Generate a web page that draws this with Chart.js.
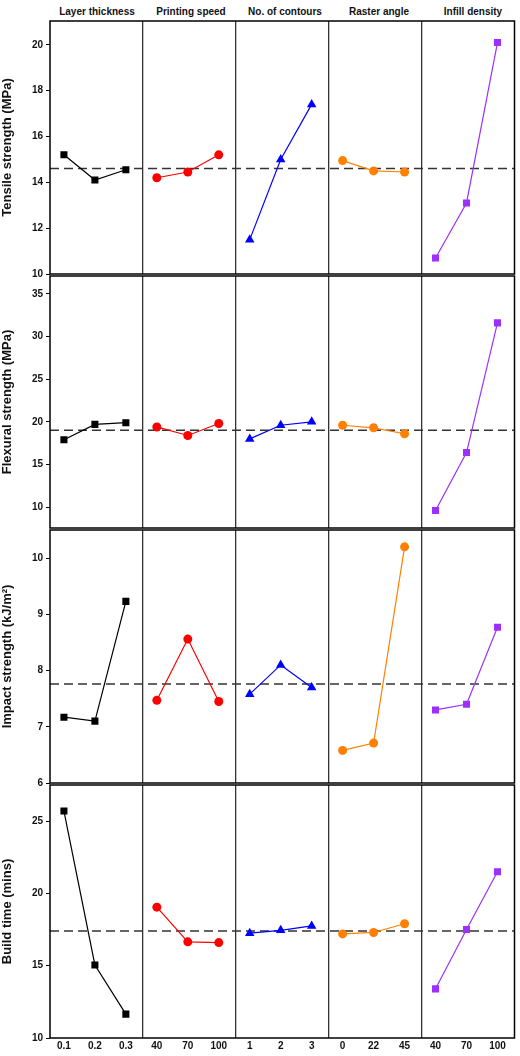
<!DOCTYPE html>
<html><head><meta charset="utf-8">
<script src="https://cdn.jsdelivr.net/npm/chart.js@4"></script>
<style>
body{margin:0;background:#fff;width:520px;height:1056px;position:relative;overflow:hidden;font-family:"Liberation Sans",Arial,sans-serif}
canvas{position:absolute;left:0}
.t{position:absolute;top:6px;width:94px;text-align:center;font-weight:bold;font-size:10px;color:#111}
</style></head><body>
<script>
const factors=["Layer thickness","Printing speed","No. of contours","Raster angle","Infill density"];
const levelLabels=[["0.1","0.2","0.3"],["40","70","100"],["1","2","3"],["0","22","45"],["40","70","100"]];
const colors=["#000000","#ff0000","#0000ff","#ff8000","#9b30ff"];
const markers=["rect","circle","triangle","circle","rect"];
const responses=["Tensile strength (MPa)","Flexural strength (MPa)","Impact strength (kJ/m²)","Build time (mins)"];
const tensile=[[15.2,14.1,14.55],[14.2,14.45,15.2],[11.5,15.0,17.4],[14.95,14.5,14.45],[10.7,13.1,20.1]];
const flexural=[[17.9,19.7,19.9],[19.4,18.4,19.8],[18.0,19.6,20.0],[19.6,19.3,18.6],[9.6,16.4,31.6]];
const impact=[[7.17,7.1,9.23],[7.47,8.56,7.45],[7.58,8.1,7.7],[6.58,6.71,10.2],[7.3,7.4,8.77]];
const buildTime=[[25.7,15.05,11.65],[19.05,16.65,16.6],[17.25,17.45,17.75],[17.2,17.3,17.9],[13.4,17.5,21.5]];
const means=[14.6,19.0,7.76,17.4];
const yRanges=[[10,21.04,2],[7.55,37.1,5],[6,10.5,1],[10,27.5,5]];
const rowData=[tensile,flexural,impact,buildTime];
const plotTops=[20,275,529,784], plotBottoms=[275,529,784,1038];
const OFF=[0.45,1.45,2.45];

factors.forEach((f,i)=>{const d=document.createElement('div');d.className='t';d.style.left=(50+i*94)+'px';d.textContent=f;document.body.appendChild(d);});

const frame={id:'frame',afterDatasetsDraw(ch){const a=ch.chartArea,c=ch.ctx;c.save();c.strokeStyle='#000';c.lineWidth=1.5;c.strokeRect(a.left,a.top,a.right-a.left,a.bottom-a.top);c.restore();}};

rowData.forEach((data,r)=>{
  const last=r===3;
  const cv=document.createElement('canvas');
  const top=plotTops[r]-8, h=plotBottoms[r]-plotTops[r]+16+(last?12:0);
  cv.style.width='520px';cv.style.height=h+'px';
  const wrap=document.createElement('div');wrap.style.cssText=`position:absolute;left:0;top:${top}px;width:520px;height:${h}px`;
  cv.style.top='0px';wrap.appendChild(cv);document.body.appendChild(wrap);
  const ds=data.map((vals,c)=>({data:vals.map((v,k)=>({x:c*3+OFF[k],y:v})),borderColor:colors[c],backgroundColor:colors[c],borderWidth:1.2,pointStyle:markers[c],pointRadius:markers[c]==='triangle'?5.5:(markers[c]==='rect'?5:4.5),pointBorderWidth:0}));
  ds.push({data:[{x:0,y:means[r]},{x:15,y:means[r]}],borderColor:'#333',borderWidth:1.5,borderDash:[9,5],pointRadius:0});
  const [ymin,ymax,step]=yRanges[r];
  new Chart(cv,{type:'line',data:{datasets:ds},plugins:[frame],options:{
    responsive:true,maintainAspectRatio:false,animation:false,
    layout:{padding:{top:8,bottom:last?0:8,right:1,left:0}},
    plugins:{legend:{display:false},tooltip:{enabled:false}},
    scales:{
      x:{type:'linear',min:0,max:15,
        afterBuildTicks(s){const t=[3,6,9,12];for(let c=0;c<5;c++)OFF.forEach(o=>t.push(c*3+o));s.ticks=t.map(v=>({value:v}));},
        afterFit(s){if(!last)s.height=0;else s.height=20;},
        ticks:{display:last,autoSkip:false,maxRotation:0,color:'#111',font:{family:'Liberation Sans',weight:'bold',size:10},padding:2,
          callback(v){const c=Math.floor(v/3),k=OFF.findIndex(o=>Math.abs(c*3+o-v)<0.01);return k<0?'':levelLabels[c][k];}},
        grid:{color(ctx){const v=ctx.tick&&ctx.tick.value;return [3,6,9,12].some(s=>Math.abs(s-v)<0.01)?'#333':'rgba(0,0,0,0)';},lineWidth:1.3,drawTicks:false},
        border:{display:false}},
      y:{min:ymin,max:ymax,
        afterBuildTicks(s){const t=[];for(let v=Math.ceil(ymin/step)*step;v<=ymax+1e-9;v+=step)t.push({value:v});s.ticks=t;},
        afterFit(s){s.width=50;},
        title:{display:true,text:responses[r],color:'#111',font:{family:'Liberation Sans',weight:'bold',size:13},padding:{top:0,bottom:2}},
        ticks:{color:'#111',font:{family:'Liberation Sans',weight:'bold',size:10},padding:3},
        grid:{drawOnChartArea:false,drawTicks:true,tickLength:4,color:'#000'},
        border:{display:false}}
    }}});
});
</script></body></html>
